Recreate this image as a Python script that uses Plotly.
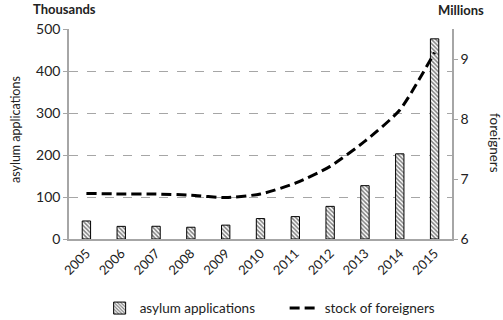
import plotly.graph_objects as go

years = ["2005", "2006", "2007", "2008", "2009", "2010", "2011", "2012", "2013", "2014", "2015"]
asylum_thousands = [42.9, 30.1, 30.3, 28.0, 33.0, 48.6, 53.3, 77.7, 127.0, 202.8, 476.6]
foreigners_millions = [6.76, 6.75, 6.75, 6.73, 6.69, 6.75, 6.93, 7.21, 7.63, 8.15, 9.11]
left_ticks = [0, 100, 200, 300, 400, 500]
right_ticks = [6, 7, 8, 9]

FONT = "Lato"
fig = go.Figure()
fig.add_trace(go.Bar(
    x=years, y=asylum_thousands, name="asylum applications",
    marker=dict(color="white", line=dict(color="black", width=1),
                pattern=dict(shape="\\", fgcolor="black", bgcolor="white", size=3, solidity=0.5)),
    width=0.24,
))
fig.add_trace(go.Scatter(
    x=years, y=foreigners_millions, name="stock of foreigners", yaxis="y2",
    mode="lines", line=dict(color="black", width=3, dash="10px,5px", shape="spline", smoothing=0.6),
))

fig.update_layout(
    width=503, height=320,
    margin=dict(l=69, r=51, t=29, b=81, autoexpand=False),
    paper_bgcolor="white", plot_bgcolor="white",
    font=dict(family=FONT, size=14, color="#222"),
    bargap=0.5,
    showlegend=True,
    legend=dict(orientation="h", x=0.563, xanchor="center", y=-0.33, yanchor="middle",
                font=dict(size=13.5, color="#222"), entrywidth=140, tracegroupgap=0),
    xaxis=dict(type="category", tickangle=-45, showline=True, linecolor="#a6a6a6", linewidth=1.5,
               ticks="", showgrid=False, tickfont=dict(size=13), automargin=False),
    yaxis=dict(range=[0, 500], tickvals=left_ticks, showline=True, linecolor="#a6a6a6", linewidth=1.5,
               ticks="outside", ticklen=4, tickcolor="#a6a6a6",
               showgrid=True, gridcolor="#a6a6a6", griddash="dash", gridwidth=1,
               zeroline=False, automargin=False),
    yaxis2=dict(range=[6, 9.5], tickvals=right_ticks, overlaying="y", side="right",
                showline=True, linecolor="#a6a6a6", linewidth=1.5, automargin=False,
                ticks="outside", ticklen=4, tickcolor="#a6a6a6", showgrid=False, zeroline=False),
    annotations=[
        dict(text="<b>Thousands</b>", xref="paper", yref="paper", x=0.0, xshift=-38, y=1.0, yshift=20,
             xanchor="left", yanchor="middle", showarrow=False, font=dict(size=13, color="#222")),
        dict(text="<b>Millions</b>", xref="paper", yref="paper", x=1.0, xshift=-16, y=1.0, yshift=19,
             xanchor="left", yanchor="middle", showarrow=False, font=dict(size=13, color="#222")),
        dict(text="asylum applications", xref="paper", yref="paper", x=0.0, xshift=-54, y=0.5, yshift=4,
             textangle=-90, xanchor="center", yanchor="middle", showarrow=False,
             font=dict(size=12.5, color="#222")),
        dict(text="foreigners", xref="paper", yref="paper", x=1.0, xshift=43, y=0.5, yshift=-9,
             textangle=90, xanchor="center", yanchor="middle", showarrow=False,
             font=dict(size=13.5, color="#222")),
    ],
)

fig.write_html("out.html", config={"displayModeBar": False},
               post_script="document.body.style.margin='0';")
